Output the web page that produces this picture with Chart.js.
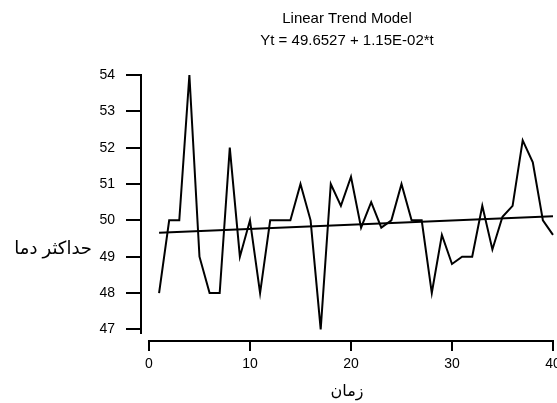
<!DOCTYPE html>
<html>
<head>
<meta charset="utf-8">
<script src="https://cdn.jsdelivr.net/npm/chart.js@4"></script>
<style>
  body { margin: 0; background: #fff; }
  #wrap { width: 557px; height: 403px; }
</style>
</head>
<body>
<div id="wrap"><canvas id="trendChart"></canvas></div>
<script>
// time index and max temperature
const timeIdx = [1, 2, 3, 4, 5, 6, 7, 8, 9, 10, 11, 12, 13, 14, 15, 16, 17, 18, 19, 20,
  21, 22, 23, 24, 25, 26, 27, 28, 29, 30, 31, 32, 33, 34, 35, 36, 37, 38, 39, 40];
const maxTemp = [48, 50, 50, 54, 49, 48, 48, 52, 49, 50, 48, 50, 50, 50, 51, 50, 47, 51, 50.4, 51.2,
  49.8, 50.5, 49.8, 50, 51, 50, 50, 48, 49.6, 48.8, 49, 49, 50.4, 49.2, 50.1, 50.4, 52.2, 51.6, 50, 49.6];

// fitted trend, its two ends
const trendT = [1, 40];
const trendY = [49.66, 50.11];

const xTicks = [0, 10, 20, 30, 40];
const yTicks = [47, 48, 49, 50, 51, 52, 53, 54];

const titleLines = ["Linear Trend Model", "Yt = 49.6527 + 1.15E-02*t"];
const xTitle = "زمان";
const yTitle = "حداكثر دما";

const FONT = "'Liberation Sans', Arial, 'DejaVu Sans', sans-serif";

// Minitab style: axis lines do not meet at the corner, y title is horizontal
const minitabAxes = {
  id: "minitabAxes",
  afterDraw(chart) {
    const { ctx, chartArea, scales } = chart;
    const x = scales.x, y = scales.y;
    ctx.save();
    ctx.strokeStyle = "#000";
    ctx.lineWidth = 2;
    ctx.beginPath();
    ctx.moveTo(chartArea.left, y.getPixelForValue(yTicks[yTicks.length - 1]) - 1);
    ctx.lineTo(chartArea.left, y.getPixelForValue(46.87));
    ctx.moveTo(x.getPixelForValue(xTicks[0]) - 1, chartArea.bottom);
    ctx.lineTo(x.getPixelForValue(xTicks[xTicks.length - 1]) + 1, chartArea.bottom);
    ctx.stroke();

    ctx.fillStyle = "#000";
    ctx.font = "18px " + FONT;
    ctx.textAlign = "right";
    ctx.textBaseline = "middle";
    ctx.fillText(yTitle, chartArea.left - 49, y.getPixelForValue(49.2));
    ctx.restore();
  }
};

const ctx = document.getElementById("trendChart").getContext("2d");

new Chart(ctx, {
  type: "line",
  data: {
    datasets: [
      {
        label: "data",
        data: timeIdx.map((t, i) => ({ x: t, y: maxTemp[i] })),
        borderColor: "#000",
        borderWidth: 2,
        pointRadius: 0,
        tension: 0,
        clip: false,
      },
      {
        label: "trend",
        data: trendT.map((t, i) => ({ x: t, y: trendY[i] })),
        borderColor: "#000",
        borderWidth: 2,
        pointRadius: 0,
        tension: 0,
        clip: false,
      },
    ],
  },
  options: {
    responsive: true,
    maintainAspectRatio: false,
    animation: false,
    layout: { padding: { left: 0, right: 4, top: 0, bottom: 0 } },
    plugins: {
      legend: { display: false },
      tooltip: { enabled: false },
      title: {
        display: true,
        text: titleLines,
        fullSize: false,
        color: "#000",
        font: { family: FONT, size: 15, weight: "normal", lineHeight: 1.4667 },
        padding: { top: 8, bottom: 23 },
      },
    },
    scales: {
      x: {
        type: "linear",
        min: -0.79,
        max: 40,
        afterBuildTicks: (s) => { s.ticks = xTicks.map((v) => ({ value: v })); },
        afterFit: (s) => { s.height = 62; s.paddingLeft = 0; s.paddingRight = 0; },
        border: { display: false },
        grid: { drawOnChartArea: false, drawTicks: true, tickLength: 10, color: "#000", lineWidth: 2 },
        ticks: { color: "#000", padding: 5, maxRotation: 0, font: { family: FONT, size: 14 } },
        title: {
          display: true,
          text: xTitle,
          color: "#000",
          font: { family: FONT, size: 16 },
          padding: { top: 0, bottom: 2 },
        },
      },
      y: {
        min: 46.68,
        max: 54,
        afterBuildTicks: (s) => { s.ticks = yTicks.map((v) => ({ value: v })); },
        afterFit: (s) => { s.width = 141; s.paddingTop = 0; s.paddingBottom = 0; },
        border: { display: false },
        grid: { drawOnChartArea: false, drawTicks: true, tickLength: 15, color: "#000", lineWidth: 2 },
        ticks: { color: "#000", padding: 11, font: { family: FONT, size: 14 } },
      },
    },
  },
  plugins: [minitabAxes],
});
</script>
</body>
</html>
